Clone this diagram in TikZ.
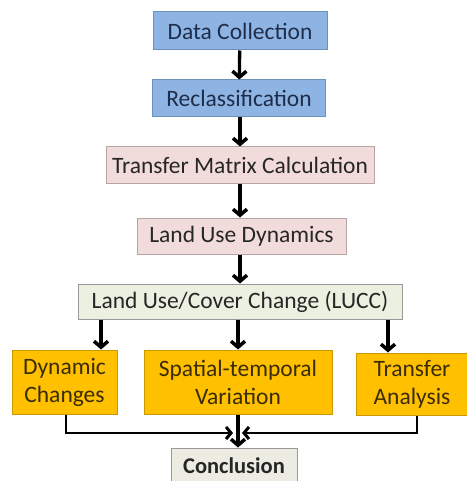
\documentclass[tikz,border=0pt]{standalone}
\usepackage{fontspec}
\setmainfont{Carlito}
\usetikzlibrary{arrows.meta}
\definecolor{boxblue}{HTML}{8EB4E3}
\definecolor{lineblue}{HTML}{6F8FBF}
\definecolor{boxpink}{HTML}{F2DCDB}
\definecolor{linepink}{HTML}{B8A4A4}
\definecolor{boxgreen}{HTML}{EBF0E0}
\definecolor{boxgrey}{HTML}{ECECE2}
\definecolor{boxorange}{HTML}{FFC000}
\definecolor{lineorange}{HTML}{C99700}
\definecolor{textblue}{HTML}{1F2D4A}
\definecolor{textbrown}{HTML}{3A2C05}
\begin{document}
\begin{tikzpicture}[x=1pt,y=-1pt]
	\tikzstyle{Node} = [rectangle, text centered, draw, line width=1pt, inner sep=0pt, font=\fontsize{23.5}{28}\selectfont]
	\tikzstyle{BlueNode} = [Node, fill=boxblue, draw=lineblue, text=textblue]
	\tikzstyle{PinkNode} = [Node, fill=boxpink, draw=linepink, text=black!85]
	\tikzstyle{GreyNode} = [Node, fill=boxgreen, draw=black!40, text=black!85]
	\tikzstyle{OrangeNode} = [Node, fill=boxorange, draw=lineorange, text=textbrown, align=center]
	\tikzstyle{arrow} = [line width=3.3pt, -{Straight Barb[length=6pt, width=14pt, line width=3.5pt]}]
	\tikzstyle{merge} = [line width=2.5pt, -{Straight Barb[length=5pt, width=12pt, line width=3pt]}]
	
	\useasboundingbox (0,0) rectangle (466,481);
	
	\node (data) [BlueNode, minimum width=174pt, minimum height=38pt] at (240,31) {Data Collection};
	\node (recl) [BlueNode, minimum width=173pt, minimum height=37pt] at (239,98.5) {Reclassification};
	\node (tmc) [PinkNode, minimum width=268pt, minimum height=36pt] at (240,165) {Transfer Matrix Calculation};
	\node (lud) [PinkNode, minimum width=209pt, minimum height=36pt] at (241.5,236) {Land Use Dynamics};
	\node (lucc) [GreyNode, minimum width=324pt, minimum height=35pt] at (240,301.5) {Land Use/Cover Change (LUCC)};
	
	\node (dyn) [OrangeNode, minimum width=105pt, minimum height=64pt] at (64.5,382) {Dynamic\\Changes};
	\node (spt) [OrangeNode, minimum width=188pt, minimum height=64pt] at (238,382) {Spatial-temporal\\Variation};
	\node (tra) [OrangeNode, minimum width=112pt, minimum height=62pt] at (412,384) {Transfer\\Analysis};
	
	\node (concl) [GreyNode, fill=boxgrey, minimum width=126pt, minimum height=36pt, font=\fontsize{22.5}{27}\selectfont\bfseries] at (234,466) {Conclusion};
	
	\coordinate (joinl) at (233,433);
	\coordinate (joinr) at (242,433);
	
	\draw [arrow] (data) -- (recl);
	\draw [arrow] (recl.south -| 240,0) -- (tmc.north -| 240,0);
	\draw [arrow] (tmc) -- (lud.north -| tmc);
	\draw [arrow] (lud.south -| 240,0) -- (lucc.north -| 240,0);
	
	\draw [arrow] (lucc.south -| 101,0) -- (dyn.north -| 101,0);
	\draw [arrow] (lucc.south -| spt) -- (spt);
	\draw [arrow] (lucc.south -| 388,0) -- (tra.north -| 388,0);
	
	\draw [merge] (dyn.south -| 66,0) |- (joinl);
	\draw [merge] (tra.south -| 417,0) |- (joinr);
	\draw [arrow] (spt) -- (concl.north -| spt);
\end{tikzpicture}
\end{document}
